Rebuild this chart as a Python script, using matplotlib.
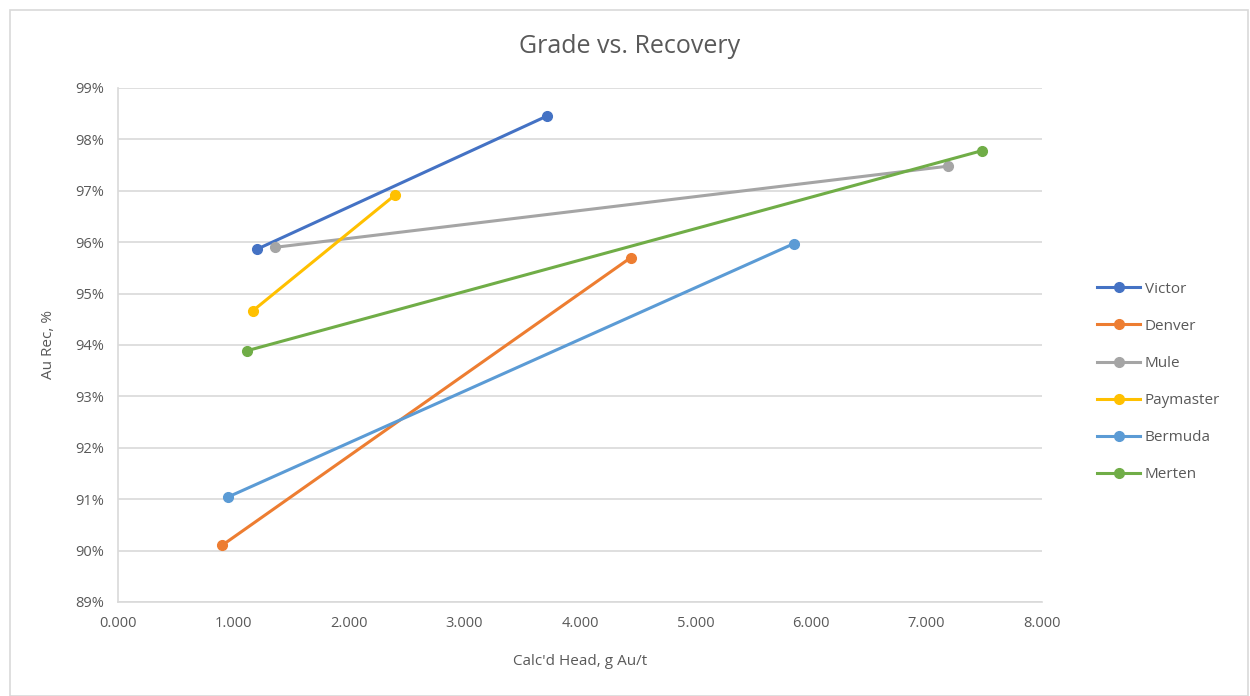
import matplotlib.pyplot as plt
from matplotlib.patches import Rectangle
from matplotlib.ticker import FuncFormatter

plt.rcParams['font.family'] = ['Open Sans', 'DejaVu Sans']

names = ['Victor', 'Denver', 'Mule', 'Paymaster', 'Bermuda', 'Merten']
head_x = [[1.20, 3.71], [0.90, 4.44], [1.36, 7.19], [1.17, 2.40], [0.95, 5.85], [1.12, 7.48]]
rec_y = [[95.86, 98.45], [90.10, 95.70], [95.90, 97.48], [94.67, 96.92], [91.04, 95.97], [93.89, 97.78]]
colors = ['#4472C4', '#ED7D31', '#A5A5A5', '#FFC000', '#5B9BD5', '#70AD47']

fig = plt.figure(figsize=(12.5, 6.96), dpi=100)
ax = fig.add_axes([0.0944, 0.1351, 0.7392, 0.7385])

for name, xs, ys, c in zip(names, head_x, rec_y, colors):
    ax.plot(xs, ys, color=c, lw=2.2, marker='o', ms=7, label=name)

ax.set_xlim(0, 8)
ax.set_ylim(89, 99)
ax.set_xticks(range(0, 9))
ax.set_yticks(range(89, 100))
ax.xaxis.set_major_formatter(FuncFormatter(lambda v, p: f'{v:.3f}'))
ax.yaxis.set_major_formatter(FuncFormatter(lambda v, p: f'{v:.0f}%'))
ax.tick_params(length=0, labelsize=10.5, labelcolor='#595959', pad=10)
ax.grid(axis='y', color='#D9D9D9', lw=1.2)
ax.set_axisbelow(True)
for s in ['top', 'right']:
    ax.spines[s].set_visible(False)
for s in ['left', 'bottom']:
    ax.spines[s].set_color('#D9D9D9')
    ax.spines[s].set_linewidth(1.2)

ax.set_xlabel("Calc'd Head, g Au/t", fontsize=11, color='#595959', labelpad=17)
ax.set_ylabel('Au Rec, %', fontsize=11, color='#595959', labelpad=14)
fig.text(0.504, 0.933, 'Grade vs. Recovery', ha='center', va='center',
         fontsize=18, color='#595959')

leg = ax.legend(loc='center left', bbox_to_anchor=(1.045, 0.428), frameon=False,
                fontsize=11, labelspacing=1.45, handlelength=2.8, handletextpad=0.3)
for t in leg.get_texts():
    t.set_color('#595959')

fig.patches.append(Rectangle((0.008, 0.0), 0.99, 0.985, transform=fig.transFigure,
                             fill=False, edgecolor='#D9D9D9', lw=1.2))

fig.savefig('out.png', dpi=100)
